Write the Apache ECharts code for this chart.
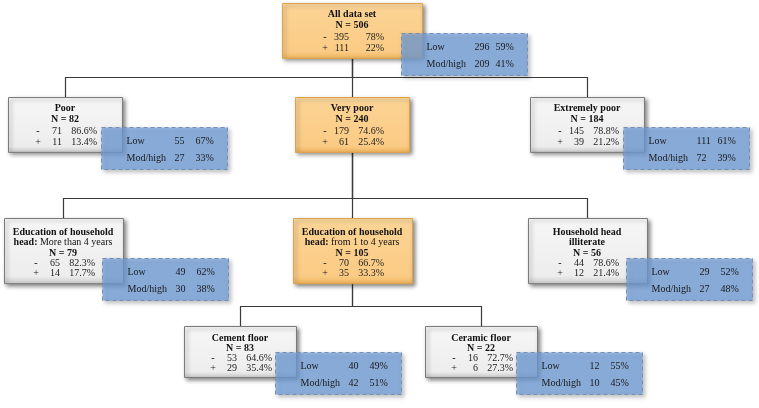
<!DOCTYPE html>
<html><head><meta charset="utf-8">
<script src="https://cdn.jsdelivr.net/npm/echarts@6/dist/echarts.min.js"></script>
<style>html,body{margin:0;padding:0;background:#fff}#c{width:759px;height:408px}</style>
</head><body><div id="c"></div>
<script>
// ---- data ----
const nodeTitles = [
  ['All data set'],
  ['Poor'],
  ['Very poor'],
  ['Extremely poor'],
  ['Education of household', '{b|head:}{r| More than 4 years}'],
  ['Education of household', '{b|head:}{r| from 1 to 4 years}'],
  ['Household head', 'illiterate'],
  ['Cement floor'],
  ['Ceramic floor']
];
const nodeN = [506, 82, 240, 184, 79, 105, 56, 83, 22];
const negCount = [395, 71, 179, 145, 65, 70, 44, 53, 16];
const negPct = ['78%', '86.6%', '74.6%', '78.8%', '82.3%', '66.7%', '78.6%', '64.6%', '72.7%'];
const posCount = [111, 11, 61, 39, 14, 35, 12, 29, 6];
const posPct = ['22%', '13.4%', '25.4%', '21.2%', '17.7%', '33.3%', '21.4%', '35.4%', '27.3%'];
const lowCount = [296, 55, null, 111, 49, null, 29, 40, 12];
const lowPct = ['59%', '67%', null, '61%', '62%', null, '52%', '49%', '55%'];
const modCount = [209, 27, null, 72, 30, null, 27, 42, 10];
const modPct = ['41%', '33%', null, '39%', '38%', null, '48%', '51%', '45%'];
const parentOf = [-1, 0, 0, 0, 2, 2, 2, 5, 5];
const highlighted = [true, false, true, false, false, true, false, false, false];

// ---- layout (axis units) ----
const nodeX = [0, -2.87, 0, 2.35, -2.89, 0, 2.35, -1.12, 1.29];
const levelTop = [0.03, 0.97, 2.18, 3.26];

const level = parentOf.map((p, i) => { let d = 0, k = i; while (parentOf[k] >= 0) { k = parentOf[k]; d++; } return d; });
const boxW = [140, 114, 119, 112];
const lineH = [11.3, 11.3, 10.3, 10];
const firstOff = [11, 11, 14, 12];
const padBottom = [10, 10, 10, 9];
const FONT = '"Liberation Serif","Times New Roman",serif';
const FS = '10px ';

function boxH(i) {
  const lv = level[i];
  const lines = nodeTitles[i].length + 3;
  return { h: firstOff[lv] + (lines - 1) * lineH[lv] + padBottom[lv], lh: lineH[lv], f: firstOff[lv] };
}

function gradFor(i) {
  if (highlighted[i]) {
    return new echarts.graphic.LinearGradient(0, 0, 0, 1, [
      { offset: 0, color: '#FFE0A6' }, { offset: 0.12, color: '#FCD393' },
      { offset: 0.88, color: '#FACB84' }, { offset: 1, color: '#EDB25C' }]);
  }
  return new echarts.graphic.LinearGradient(0, 0, 0, 1, [
    { offset: 0, color: '#FFFFFF' }, { offset: 0.12, color: '#F5F5F5' },
    { offset: 0.88, color: '#EDEDED' }, { offset: 1, color: '#C8C8C8' }]);
}

function renderNode(params, api) {
  const i = params.dataIndex;
  const p = api.coord([api.value(0), api.value(1)]);
  const w = boxW[level[i]];
  const bh = boxH(i);
  const x0 = Math.round(p[0] - w / 2) + 0.5, y0 = Math.round(p[1]) + 0.5;
  const cx = p[0];
  const kids = [{
    type: 'rect',
    shape: { x: x0, y: y0, width: w, height: bh.h },
    style: {
      fill: gradFor(i), stroke: highlighted[i] ? '#DFA24A' : '#7A7A7A', lineWidth: 1,
      shadowBlur: 4, shadowOffsetX: 2, shadowOffsetY: 2, shadowColor: 'rgba(0,0,0,0.45)'
    }
  }];
  let y = y0 + bh.f;
  nodeTitles[i].forEach(t => {
    kids.push({
      type: 'text',
      style: {
        text: t, x: cx, y: y, align: 'center', verticalAlign: 'middle',
        font: 'bold ' + FS + FONT, fill: '#111',
        rich: {
          b: { font: 'bold ' + FS + FONT, fill: '#111' },
          r: { font: FS + FONT, fill: '#111' }
        }
      }
    });
    y += bh.lh;
  });
  kids.push({ type: 'text', style: { text: 'N = ' + nodeN[i], x: cx, y: y, align: 'center', verticalAlign: 'middle', font: 'bold ' + FS + FONT, fill: '#111' } });
  y += bh.lh;
  [['-', negCount[i], negPct[i]], ['+', posCount[i], posPct[i]]].forEach(r => {
    kids.push({ type: 'text', style: { text: r[0], x: cx - 27, y: y, align: 'center', verticalAlign: 'middle', font: (r[0] === '-' ? 'bold ' : '') + FS + FONT, fill: '#222' } });
    kids.push({ type: 'text', style: { text: String(r[1]), x: cx - 3, y: y, align: 'right', verticalAlign: 'middle', font: FS + FONT, fill: '#222' } });
    kids.push({ type: 'text', style: { text: r[2], x: cx + 32, y: y, align: 'right', verticalAlign: 'middle', font: FS + FONT, fill: '#222' } });
    y += bh.lh;
  });
  return { type: 'group', children: kids };
}

function renderLink(params, api) {
  const c = api.coord([api.value(0), api.value(1)]);
  const p = api.coord([api.value(2), api.value(3)]);
  const pi = api.value(4);
  const pb = Math.round(p[1]) + boxH(pi).h;
  const barY = Math.round(c[1]) - 20 + 0.5;
  const cx = Math.round(c[0]) + 0.5, px = Math.round(p[0]) + 0.5;
  return {
    type: 'polyline',
    shape: { points: [[px, pb], [px, barY], [cx, barY], [cx, Math.round(c[1])]] },
    style: { fill: null, stroke: '#3A3A3A', lineWidth: 1.2 }
  };
}

function renderBlue(params, api) {
  const i = api.value(2);
  const p = api.coord([api.value(0), api.value(1)]);
  const w = boxW[level[i]];
  const right = Math.round(p[0] + w / 2);
  const bottom = Math.round(p[1]) + boxH(i).h;
  const x0 = right - 21 + 0.5, y0 = Math.round(bottom - 25) + 0.5;
  const kids = [{
    type: 'rect',
    shape: { x: x0, y: y0, width: 126, height: 42 },
    style: {
      fill: 'rgba(115,160,220,0.75)', stroke: '#7390B4', lineWidth: 1, lineDash: [4, 3],
      shadowBlur: 4, shadowOffsetX: 2, shadowOffsetY: 2, shadowColor: 'rgba(0,0,0,0.3)'
    }
  }];
  [['Low', lowCount[i], lowPct[i], 14], ['Mod/high', modCount[i], modPct[i], 31]].forEach(r => {
    const yy = y0 + r[3];
    kids.push({ type: 'text', style: { text: r[0], x: x0 + 25, y: yy, verticalAlign: 'middle', font: FS + FONT, fill: '#1a1a1a' } });
    kids.push({ type: 'text', style: { text: String(r[1]), x: x0 + 73, y: yy, verticalAlign: 'middle', font: FS + FONT, fill: '#1a1a1a' } });
    kids.push({ type: 'text', style: { text: r[2], x: x0 + 94, y: yy, verticalAlign: 'middle', font: FS + FONT, fill: '#1a1a1a' } });
  });
  return { type: 'group', children: kids };
}

const nodeData = nodeX.map((x, i) => [x, levelTop[level[i]]]);
const linkData = [];
parentOf.forEach((p, i) => { if (p >= 0) linkData.push([nodeX[i], levelTop[level[i]], nodeX[p], levelTop[level[p]], p]); });
const blueData = [];
lowCount.forEach((v, i) => { if (v != null) blueData.push([nodeX[i], levelTop[level[i]], i]); });

const chart = echarts.init(document.getElementById('c'), null, { renderer: 'canvas' });
chart.setOption({
  animation: false,
  backgroundColor: '#fff',
  grid: { left: 0, right: 0, top: 0, bottom: 0 },
  xAxis: { type: 'value', min: -3.52, max: 4.07, show: false },
  yAxis: { type: 'value', min: 0, max: 4.08, inverse: true, show: false },
  series: [
    { type: 'custom', renderItem: renderLink, data: linkData, z: 1, silent: true },
    { type: 'custom', renderItem: renderNode, data: nodeData, z: 2, silent: true },
    { type: 'custom', renderItem: renderBlue, data: blueData, z: 3, silent: true }
  ]
});
</script></body></html>
